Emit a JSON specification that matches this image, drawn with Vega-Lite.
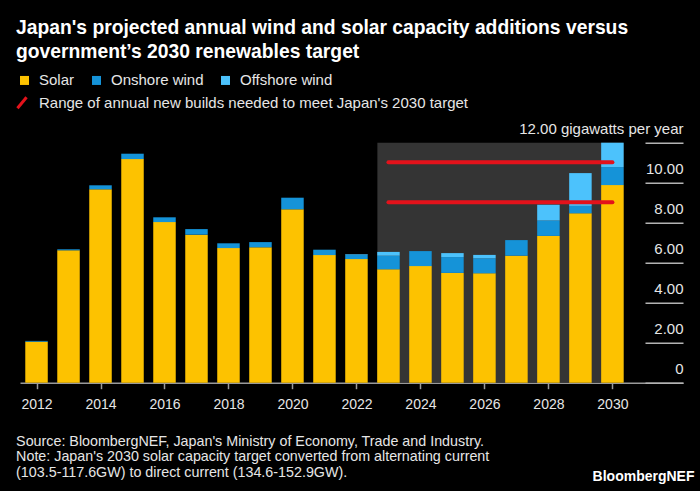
{
  "$schema": "https://vega.github.io/schema/vega-lite/v6.json",
  "width": 663,
  "height": 240,
  "autosize": {"type": "none"},
  "padding": {"left": 20, "top": 142.7, "right": 17, "bottom": 108.3},
  "background": "#000000",
  "config": {"view": {"stroke": null}, "font": "Liberation Sans", "axis": {"labelOverlap": false}},
  "title": {
    "text": ["Japan's projected annual wind and solar capacity additions versus", "government’s 2030 renewables target"],
    "anchor": "start",
    "frame": "group",
    "font": "Liberation Sans",
    "fontSize": 19.3,
    "fontWeight": "bold",
    "color": "#ffffff",
    "lineHeight": 24,
    "dx": -4,
    "offset": 10
  },
  "datasets": {
    "shade": [{"x0": 2022.654, "x1": 2030.346, "y0": 0, "y1": 12}],
    "bars": [
      {"year": 2012, "type": "Solar", "value": 2.05}, {"year": 2012, "type": "Onshore wind", "value": 0.04}, {"year": 2012, "type": "Offshore wind", "value": 0},
      {"year": 2013, "type": "Solar", "value": 6.62}, {"year": 2013, "type": "Onshore wind", "value": 0.05}, {"year": 2013, "type": "Offshore wind", "value": 0},
      {"year": 2014, "type": "Solar", "value": 9.67}, {"year": 2014, "type": "Onshore wind", "value": 0.2}, {"year": 2014, "type": "Offshore wind", "value": 0},
      {"year": 2015, "type": "Solar", "value": 11.18}, {"year": 2015, "type": "Onshore wind", "value": 0.27}, {"year": 2015, "type": "Offshore wind", "value": 0},
      {"year": 2016, "type": "Solar", "value": 8.03}, {"year": 2016, "type": "Onshore wind", "value": 0.24}, {"year": 2016, "type": "Offshore wind", "value": 0},
      {"year": 2017, "type": "Solar", "value": 7.4}, {"year": 2017, "type": "Onshore wind", "value": 0.28}, {"year": 2017, "type": "Offshore wind", "value": 0},
      {"year": 2018, "type": "Solar", "value": 6.73}, {"year": 2018, "type": "Onshore wind", "value": 0.24}, {"year": 2018, "type": "Offshore wind", "value": 0},
      {"year": 2019, "type": "Solar", "value": 6.77}, {"year": 2019, "type": "Onshore wind", "value": 0.26}, {"year": 2019, "type": "Offshore wind", "value": 0},
      {"year": 2020, "type": "Solar", "value": 8.67}, {"year": 2020, "type": "Onshore wind", "value": 0.58}, {"year": 2020, "type": "Offshore wind", "value": 0},
      {"year": 2021, "type": "Solar", "value": 6.38}, {"year": 2021, "type": "Onshore wind", "value": 0.27}, {"year": 2021, "type": "Offshore wind", "value": 0},
      {"year": 2022, "type": "Solar", "value": 6.18}, {"year": 2022, "type": "Onshore wind", "value": 0.22}, {"year": 2022, "type": "Offshore wind", "value": 0.03},
      {"year": 2023, "type": "Solar", "value": 5.67}, {"year": 2023, "type": "Onshore wind", "value": 0.68}, {"year": 2023, "type": "Offshore wind", "value": 0.19},
      {"year": 2024, "type": "Solar", "value": 5.83}, {"year": 2024, "type": "Onshore wind", "value": 0.75}, {"year": 2024, "type": "Offshore wind", "value": 0},
      {"year": 2025, "type": "Solar", "value": 5.49}, {"year": 2025, "type": "Onshore wind", "value": 0.79}, {"year": 2025, "type": "Offshore wind", "value": 0.2},
      {"year": 2026, "type": "Solar", "value": 5.47}, {"year": 2026, "type": "Onshore wind", "value": 0.75}, {"year": 2026, "type": "Offshore wind", "value": 0.17},
      {"year": 2027, "type": "Solar", "value": 6.35}, {"year": 2027, "type": "Onshore wind", "value": 0.78}, {"year": 2027, "type": "Offshore wind", "value": 0},
      {"year": 2028, "type": "Solar", "value": 7.34}, {"year": 2028, "type": "Onshore wind", "value": 0.77}, {"year": 2028, "type": "Offshore wind", "value": 0.79},
      {"year": 2029, "type": "Solar", "value": 8.47}, {"year": 2029, "type": "Onshore wind", "value": 0.37}, {"year": 2029, "type": "Offshore wind", "value": 1.64},
      {"year": 2030, "type": "Solar", "value": 9.88}, {"year": 2030, "type": "Onshore wind", "value": 0.9}, {"year": 2030, "type": "Offshore wind", "value": 1.22}
    ],
    "target": [
      {"series": "Range of annual new builds needed to meet Japan's 2030 target", "start": 2023, "end": 2030, "value": 11.02},
      {"series": "Range of annual new builds needed to meet Japan's 2030 target", "start": 2023, "end": 2030, "value": 9.02}
    ]
  },
  "layer": [
    {
      "data": {"name": "shade"},
      "mark": {"type": "rect", "color": "#343434"},
      "encoding": {
        "x": {
          "field": "x0", "type": "quantitative",
          "scale": {"domain": [2011.64, 2032.05], "nice": false, "zero": false},
          "axis": {
            "values": [2012, 2014, 2016, 2018, 2020, 2022, 2024, 2026, 2028, 2030],
            "tickCount": 30,
            "format": "d",
            "grid": false,
            "domainColor": "#9a9a9a", "domainWidth": 1.5,
            "tickColor": "#9a9a9a", "tickSize": 6, "tickWidth": 1.5,
            "labelFontSize": 14, "labelColor": "#e6e6e6",
            "labelBaseline": "alphabetic", "labelPadding": 19.8,
            "labelFlush": false, "labelOverlap": false,
            "title": ["Source: BloombergNEF, Japan's Ministry of Economy, Trade and Industry.", "Note: Japan's 2030 solar capacity target converted from alternating current", "(103.5-117.6GW) to direct current (134.6-152.9GW)."],
            "titleAnchor": "start", "titleAlign": "left", "titleBaseline": "alphabetic",
            "titleX": -4.4, "titleY": 62.3,
            "titleFontSize": 14.3, "titleFontWeight": "normal", "titleColor": "#e6e6e6",
            "titleLineHeight": 15.8
          }
        },
        "x2": {"field": "x1"},
        "y": {
          "field": "y0", "type": "quantitative",
          "scale": {"domain": [0, 12], "nice": false},
          "axis": {
            "orient": "right",
            "offset": -38,
            "values": [0, 2, 4, 6, 8, 10, 12],
            "tickCount": 20,
            "domain": false, "grid": false,
            "tickSize": 38, "tickColor": "#b3b3b3", "tickWidth": 1.5,
            "labelAlign": "right", "labelBaseline": "alphabetic",
            "labelOffset": -9, "labelPadding": 0,
            "labelFontSize": 15, "labelColor": "#e6e6e6",
            "labelFlush": false, "labelOverlap": false,
            "labelExpr": "datum.value == 0 ? '0' : datum.value == 12 ? '12.00 gigawatts per year' : format(datum.value, '.2f')",
            "title": "BloombergNEF",
            "titleAngle": 0, "titleAlign": "right", "titleBaseline": "alphabetic",
            "titleX": 49, "titleY": 338,
            "titleFontSize": 14, "titleFontWeight": "bold", "titleColor": "#ffffff"
          }
        },
        "y2": {"field": "y1"}
      }
    },
    {
      "data": {"name": "bars"},
      "mark": {"type": "bar", "width": 22.5},
      "encoding": {
        "x": {"field": "year", "type": "quantitative"},
        "y": {"field": "value", "type": "quantitative", "stack": "zero"},
        "color": {
          "field": "type", "type": "nominal",
          "scale": {"domain": ["Solar", "Onshore wind", "Offshore wind"], "range": ["#fdc200", "#1593d8", "#4cc2fc"]},
          "legend": {
            "orient": "none", "legendX": -3, "legendY": -70,
            "direction": "horizontal", "title": null,
            "symbolType": "square", "symbolSize": 81, "symbolStrokeWidth": 0, "symbolOpacity": 1,
            "labelColor": "#e6e6e6", "labelFontSize": 15, "labelOffset": 7,
            "columnPadding": 14
          }
        },
        "order": {"field": "type", "sort": "descending"}
      }
    },
    {
      "data": {"name": "target"},
      "mark": {"type": "rule", "strokeWidth": 4, "strokeCap": "round"},
      "encoding": {
        "x": {"field": "start", "type": "quantitative"},
        "x2": {"field": "end"},
        "y": {"field": "value", "type": "quantitative"},
        "stroke": {
          "field": "series", "type": "nominal",
          "scale": {"range": ["#e3121b"]},
          "legend": {
            "orient": "none", "legendX": -6, "legendY": -48,
            "title": null,
            "symbolType": "M-0.7,0.85L0.7,-0.85", "symbolSize": 169, "symbolStrokeWidth": 3,
            "labelColor": "#e6e6e6", "labelFontSize": 15, "labelOffset": 9, "labelLimit": 700
          }
        }
      }
    }
  ]
}
